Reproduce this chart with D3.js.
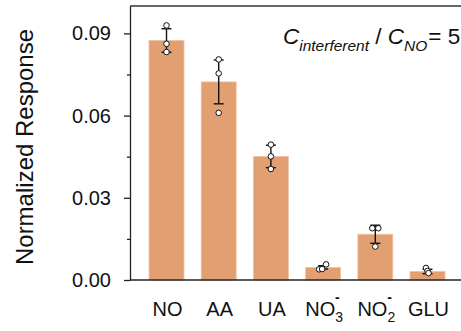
<!DOCTYPE html>
<html>
<head>
<meta charset="utf-8">
<script src="https://cdn.jsdelivr.net/npm/d3@7"></script>
<style>
  body { margin: 0; background: #fff; }
  svg { display: block; font-family: "Liberation Sans", Arial, sans-serif; }
  .axis text { font-size: 20px; fill: #111; }
  .axis path, .axis line { stroke: #222; stroke-width: 1.3px; }
</style>
</head>
<body>
<div id="chart"></div>
<script>
// data
const categories = ["NO", "AA", "UA", "NO3-", "NO2-", "GLU"];
const labelMain = ["NO", "AA", "UA", "NO", "NO", "GLU"];
const labelSub = ["", "", "", "3", "2", ""];
const labelSup = ["", "", "", "-", "-", ""];
const means = [0.0874, 0.0723, 0.0451, 0.0046, 0.0167, 0.0031];
const errors = [0.0043, 0.0080, 0.0041, 0.0006, 0.0033, 0.0008];
const points = [
  [0.0929, 0.0862, 0.0832],
  [0.0805, 0.0754, 0.0610],
  [0.0494, 0.0451, 0.0405],
  [0.0039, 0.0040, 0.0057],
  [0.0189, 0.0189, 0.0122],
  [0.0044, 0.0033, 0.0025]
];
// small horizontal offsets of the replicate dots (px)
const jitter = [[0, 0, 0], [0, 0, 0], [0, 0, 0], [-4, -1, 3], [-3, 3, 0], [-1.5, 0, 1]];
const majorTicks = [0, 0.03, 0.06, 0.09];
const minorTicks = [0.015, 0.045, 0.075];

const W = 461, H = 331;
const svg = d3.select("#chart").append("svg")
  .attr("width", W)
  .attr("height", H);

const x = d3.scaleBand()
  .domain(categories)
  .range([140.4, 453.6])
  .paddingInner(0.33)
  .paddingOuter(0.165);

const y = d3.scaleLinear()
  .domain([0, 0.1])
  .range([280, 6]);

const left = 130;

// bars
svg.selectAll(".bar")
  .data(categories)
  .enter()
  .append("rect")
  .attr("class", "bar")
  .attr("x", d => x(d))
  .attr("width", x.bandwidth())
  .attr("y", (d, i) => y(means[i]))
  .attr("height", (d, i) => y(0) - y(means[i]))
  .attr("fill", "#e2a072")
  .attr("stroke", "#eec3a2")
  .attr("stroke-width", 0.8);

// error bars
const cap = 5;
const eb = svg.selectAll(".err")
  .data(categories)
  .enter()
  .append("g")
  .attr("class", "err")
  .attr("stroke", "#111")
  .attr("stroke-width", 1.4);

eb.append("line")
  .attr("x1", d => x(d) + x.bandwidth() / 2)
  .attr("x2", d => x(d) + x.bandwidth() / 2)
  .attr("y1", (d, i) => y(means[i] + errors[i]))
  .attr("y2", (d, i) => y(means[i] - errors[i]));
eb.append("line")
  .attr("x1", d => x(d) + x.bandwidth() / 2 - cap)
  .attr("x2", d => x(d) + x.bandwidth() / 2 + cap)
  .attr("y1", (d, i) => y(means[i] + errors[i]))
  .attr("y2", (d, i) => y(means[i] + errors[i]));
eb.append("line")
  .attr("x1", d => x(d) + x.bandwidth() / 2 - cap)
  .attr("x2", d => x(d) + x.bandwidth() / 2 + cap)
  .attr("y1", (d, i) => y(means[i] - errors[i]))
  .attr("y2", (d, i) => y(means[i] - errors[i]));

// replicate dots
const dots = [];
categories.forEach((c, i) => {
  points[i].forEach((v, j) => dots.push({ cat: c, v: v, dx: jitter[i][j] }));
});
svg.selectAll(".dot")
  .data(dots)
  .enter()
  .append("circle")
  .attr("class", "dot")
  .attr("cx", d => x(d.cat) + x.bandwidth() / 2 + d.dx)
  .attr("cy", d => y(d.v))
  .attr("r", 2.8)
  .attr("fill", "#fff")
  .attr("stroke", "#111")
  .attr("stroke-width", 1);

// frame: top and bottom lines run to the right edge
svg.append("line")
  .attr("x1", left).attr("x2", W)
  .attr("y1", y(0.1)).attr("y2", y(0.1))
  .attr("stroke", "#333").attr("stroke-width", 1.3);
svg.append("line")
  .attr("x1", left).attr("x2", W)
  .attr("y1", y(0)).attr("y2", y(0))
  .attr("stroke", "#222").attr("stroke-width", 1.3);

// y axis
svg.append("g")
  .attr("class", "axis")
  .attr("transform", `translate(${left},0)`)
  .call(d3.axisLeft(y).tickValues(majorTicks).tickFormat(d3.format(".2f"))
    .tickSize(6).tickSizeOuter(0).tickPadding(13));
svg.append("g")
  .attr("class", "axis")
  .attr("transform", `translate(${left},0)`)
  .call(d3.axisLeft(y).tickValues(minorTicks).tickFormat("").tickSize(3).tickSizeOuter(0))
  .select(".domain").remove();

// y label
svg.append("text")
  .attr("transform", "translate(33,147) rotate(-90)")
  .attr("text-anchor", "middle")
  .style("font-size", "24px")
  .style("fill", "#111")
  .text("Normalized Response");

// x labels with sub/superscripts
const xl = svg.selectAll(".xlab")
  .data(categories)
  .enter()
  .append("text")
  .attr("class", "xlab")
  .attr("x", d => x(d) + x.bandwidth() / 2 + 1)
  .attr("y", 316)
  .attr("text-anchor", "middle")
  .style("font-size", "20px")
  .style("fill", "#111");
xl.append("tspan").text((d, i) => labelMain[i]);
xl.filter((d, i) => labelSub[i] !== "").each(function(d) {
  const i = categories.indexOf(d);
  const t = d3.select(this);
  t.append("tspan").attr("dy", 6).style("font-size", "14px").text(labelSub[i]);
  t.append("tspan").attr("dx", -8).attr("dy", -20).style("font-size", "14px")
    .style("font-weight", "bold").text(labelSup[i]);
});

// annotation
const ann = svg.append("text")
  .attr("x", 283)
  .attr("y", 44)
  .style("font-size", "22.5px")
  .style("fill", "#111");
ann.append("tspan").style("font-style", "italic").text("C");
ann.append("tspan").attr("dy", 7).style("font-style", "italic").style("font-size", "15.5px").text("interferent");
ann.append("tspan").attr("dy", -7).text(" / ");
ann.append("tspan").style("font-style", "italic").text("C");
ann.append("tspan").attr("dy", 7).style("font-style", "italic").style("font-size", "15.5px").text("NO");
ann.append("tspan").attr("dy", -7).attr("dx", 1).text("= 5");
</script>
</body>
</html>
